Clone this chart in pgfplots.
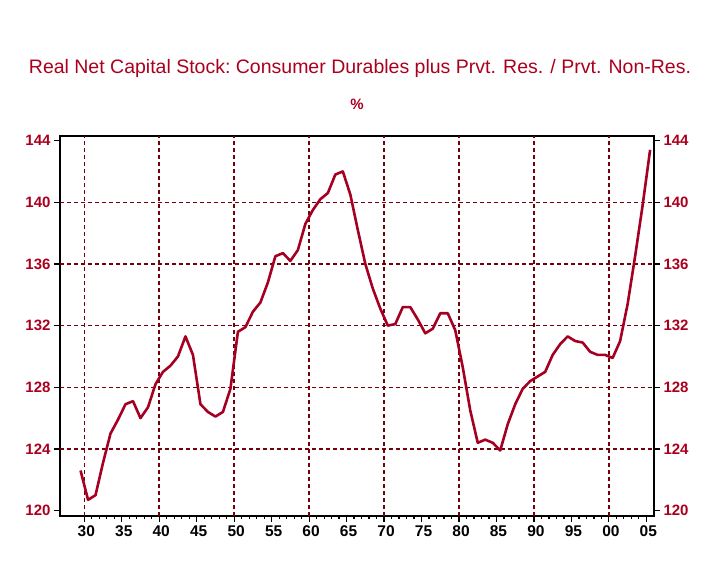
\documentclass[border=0pt]{standalone}
\usepackage{fontspec}
\setmainfont{Liberation Sans}
\usepackage{pgfplots}
\pgfplotsset{compat=1.18}
\usepackage{pgfplotstable}
\definecolor{linered}{RGB}{165,0,33}
\definecolor{titlered}{RGB}{170,0,30}
\definecolor{gridred}{RGB}{115,0,10}
\pgfplotstableread{
year value
1929 122.6
1930 120.7
1931 121.0
1932 123.1
1933 125.0
1934 125.9
1935 126.9
1936 127.1
1937 126.0
1938 126.7
1939 128.2
1940 129.0
1941 129.4
1942 130.0
1943 131.3
1944 130.1
1945 126.9
1946 126.4
1947 126.1
1948 126.4
1949 127.9
1950 131.6
1951 131.9
1952 132.9
1953 133.5
1954 134.8
1955 136.5
1956 136.7
1957 136.2
1958 136.9
1959 138.6
1960 139.5
1961 140.2
1962 140.6
1963 141.8
1964 142.0
1965 140.5
1966 138.2
1967 136.0
1968 134.4
1969 133.1
1970 132.0
1971 132.1
1972 133.2
1973 133.2
1974 132.4
1975 131.5
1976 131.8
1977 132.8
1978 132.8
1979 131.7
1980 129.3
1981 126.5
1982 124.4
1983 124.6
1984 124.4
1985 123.9
1986 125.6
1987 126.9
1988 127.9
1989 128.4
1990 128.7
1991 129.0
1992 130.1
1993 130.8
1994 131.3
1995 131.0
1996 130.9
1997 130.3
1998 130.1
1999 130.1
2000 129.9
2001 131.0
2002 133.4
2003 136.5
2004 139.8
2005 143.4
}\datatable
\begin{document}
\begin{tikzpicture}
\path[use as bounding box] (0,0) rectangle (720pt,561pt);
\node[font=\fontsize{19.5}{19.5}\selectfont, text=titlered] at (360pt,493pt) {Real Net Capital Stock:\ Consumer Durables plus Prvt. Res. / Prvt. Non-Res.};
\node[font=\bfseries\fontsize{15}{15}\selectfont, text=titlered] at (357pt,457pt) {\%};
\begin{axis}[
  at={(60pt,45pt)}, anchor=south west,
  scale only axis, width=594pt, height=380pt,
  xmin=1926.76, xmax=2006.02,
  ymin=119.65, ymax=144.3,
  axis line style={black, line width=1.2pt},
  tick align=outside,
  xtick pos=left, ytick pos=left,
  xtick={1930,1935,...,2005},
  xticklabels={30,35,40,45,50,55,60,65,70,75,80,85,90,95,00,05},
  minor x tick num=4,
  ytick={120,124,...,144},
  major tick length=6pt, minor tick length=3pt,
  every tick/.style={black, line width=1.2pt},
  xticklabel style={font=\bfseries\fontsize{15.5}{15.5}\selectfont, text=black, xshift=2pt},
  yticklabel style={font=\bfseries\fontsize{15}{15}\selectfont, text=titlered},
  /pgf/number format/assume math mode=true,
  extra x ticks={1930,1940,1950,1960,1970,1980,1990,2000},
  extra x tick labels={},
  extra y ticks={124,128,132,136,140},
  extra y tick labels={},
  extra tick style={major tick length=0pt, grid=major},
  major grid style={gridred, line width=1.5pt, dash pattern=on 3.5pt off 3.5pt},
]
\addplot[linered, line width=2.6pt, line join=round] table[x expr=\thisrow{year}+0.5, y=value] {\datatable};
\end{axis}
\begin{axis}[
  at={(60pt,45pt)}, anchor=south west,
  scale only axis, width=594pt, height=380pt,
  xmin=1926.76, xmax=2006.02,
  ymin=119.65, ymax=144.3,
  axis x line=none, axis y line*=right,
  axis line style={black, line width=1.2pt, -},
  tick align=outside,
  ytick={120,124,...,144},
  major tick length=6pt,
  every tick/.style={black, line width=1.2pt},
  yticklabel style={font=\bfseries\fontsize{15}{15}\selectfont, text=titlered},
  /pgf/number format/assume math mode=true,
]
\end{axis}
\end{tikzpicture}
\end{document}
